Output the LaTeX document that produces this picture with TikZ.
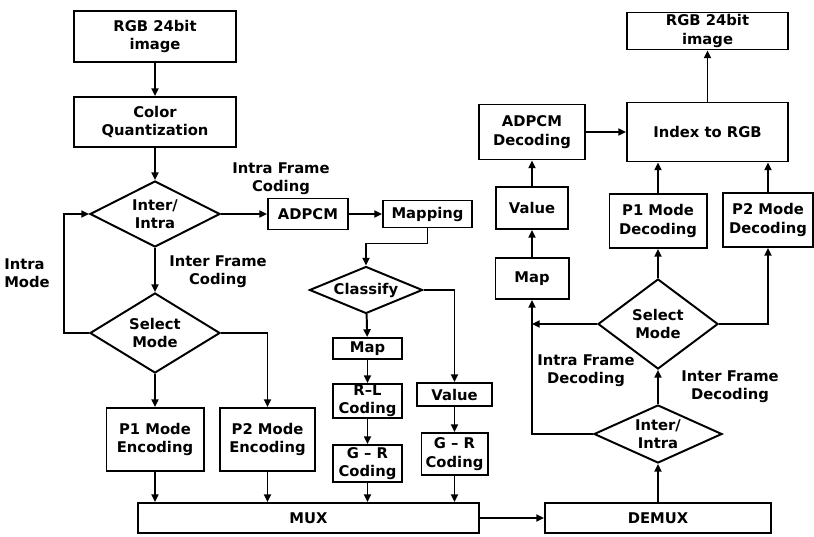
\documentclass[tikz,border=0pt]{standalone}
\usepackage{fontspec}
\setmainfont{DejaVu Sans}
\usetikzlibrary{shapes.geometric,arrows.meta}

\begin{document}
\begin{tikzpicture}[x=0.025cm, y=-0.025cm, >={Triangle[length=5.5pt,width=5pt]}, line width=1.4pt]
\tikzstyle{every node}=[font=\fontsize{10.5}{13}\selectfont\bfseries, align=center]
\tikzstyle{block}=[draw, rectangle, inner sep=0pt]
\tikzstyle{decide}=[draw, diamond, aspect=2, inner sep=0pt]
\useasboundingbox (0,0) rectangle (814,537);

% Encoder, left column
\node[block, minimum width=4.05cm, minimum height=1.275cm] (src) at (155, 36.5) {RGB 24bit\\image};
\node[block, minimum width=4.05cm, minimum height=1.25cm] (cq) at (155, 122) {Color\\Quantization};
\node[decide, minimum width=3.25cm, minimum height=1.65cm] (ii1) at (155, 214) {Inter/\\Intra};
\node[decide, minimum width=3.25cm, minimum height=2cm] (sm1) at (155, 333) {Select\\Mode};
\node[block, minimum width=2.425cm, minimum height=1.575cm] (p1e) at (155, 439.5) {P1 Mode\\Encoding};
\node[block, minimum width=2.375cm, minimum height=1.575cm] (p2e) at (267.5, 439.5) {P2 Mode\\Encoding};
\node (lmode) at (27, 273) [align=left] {Intra\\Mode};
\node (linter) at (218, 272) {Inter Frame\\Coding};
\node (lintra) at (281, 179) {Intra Frame\\Coding};
\foreach \a/\b in {src/cq, cq/ii1, ii1/sm1, sm1/p1e}
  \draw[->] (\a) -- (\b);
\draw[->] (sm1.east) -| (p2e.north);
\draw[->] (sm1.west) -- ++(-25,0) |- (ii1.west);

% Encoder, intra frame coding
\node[block, minimum width=2cm, minimum height=0.775cm] (adpcm) at (308, 214) {ADPCM};
\node[block, minimum width=2.225cm, minimum height=0.675cm] (map1) at (427.5, 214) {Mapping};
\node[decide, minimum width=2.825cm, minimum height=1.175cm] (cls) at (366, 290) {Classify};
\node[block, minimum width=1.725cm, minimum height=0.525cm] (mapE) at (367.5, 348.5) {Map};
\node[block, minimum width=1.725cm, minimum height=0.85cm] (rl) at (367.5, 401) {R--L\\Coding};
\node[block, minimum width=1.725cm, minimum height=0.925cm] (gr1) at (367.5, 463.5) {G -- R\\Coding};
\node[block, minimum width=1.875cm, minimum height=0.575cm] (val1) at (454.5, 394.5) {Value};
\node[block, minimum width=1.65cm, minimum height=1.05cm] (gr2) at (454.5, 454) {G -- R\\Coding};
\foreach \a/\b in {ii1/adpcm, adpcm/map1, cls/mapE, mapE/rl, rl/gr1, val1/gr2}
  \draw[->] (\a) -- (\b);
\draw[->] (map1.south) -- ++(0,15) -| (cls.north);
\draw[->] (cls.east) -| (val1.north);

% MUX / DEMUX
\node[block, minimum width=8.525cm, minimum height=0.75cm] (mux) at (308.5, 518) {MUX};
\node[block, minimum width=5.65cm, minimum height=0.75cm] (demux) at (658, 518) {DEMUX};
\foreach \n in {p1e, p2e, gr1, gr2}
  \draw[->] (\n.south) -- (\n.south |- mux.north);
\draw[->] (mux) -- (demux);

% Decoder
\node[decide, minimum width=3.2cm, minimum height=1.45cm] (ii2) at (658, 434) {Inter/\\Intra};
\node[decide, minimum width=3cm, minimum height=2.25cm] (sm2) at (658, 324) {Select\\Mode};
\node[block, minimum width=2.425cm, minimum height=1.35cm] (p1d) at (658, 221) {P1 Mode\\Decoding};
\node[block, minimum width=2.25cm, minimum height=1.35cm] (p2d) at (768, 220) {P2 Mode\\Decoding};
\node[block, minimum width=1.825cm, minimum height=1.025cm] (map2) at (532, 278.5) {Map};
\node[block, minimum width=1.8cm, minimum height=1.05cm] (val2) at (532, 208) {Value};
\node[block, minimum width=2.65cm, minimum height=1.375cm] (adpd) at (532, 132) {ADPCM\\Decoding};
\node[block, minimum width=4.025cm, minimum height=1.475cm] (idx) at (707.5, 132) {Index to RGB};
\node[block, minimum width=4.025cm, minimum height=0.925cm] (dst) at (707.5, 31) {RGB 24bit\\image};
\node (ldintra) at (586, 371) {Intra Frame\\Decoding};
\node (ldinter) at (730, 387) {Inter Frame\\Decoding};
\coordinate (jn) at (532, 324);
\foreach \a/\b in {demux/ii2, ii2/sm2, sm2/p1d, map2/val2, val2/adpd, adpd/idx}
  \draw[->] (\a) -- (\b);
\foreach \n in {p1d, p2d}
  \draw[->] (\n.north) -- (\n.north |- idx.south);
\draw[->] (idx.north -| dst) -- (dst);
\draw[->] (sm2.east) -| (p2d.south);
\draw[->] (sm2.west) -- (jn);
\draw[->] (ii2.west) -| (map2.south);
\end{tikzpicture}
\end{document}
